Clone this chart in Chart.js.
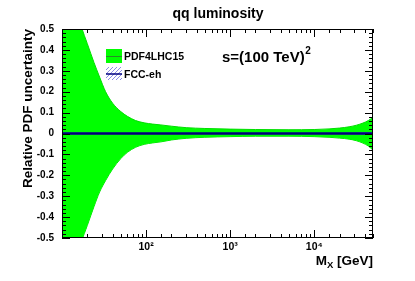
<!DOCTYPE html>
<html>
<head>
<meta charset="utf-8">
<script src="https://cdn.jsdelivr.net/npm/chart.js@4/dist/chart.umd.min.js"></script>
<style>
  html, body { margin: 0; padding: 0; background: #fff; }
  canvas { display: block; }
</style>
</head>
<body>
<canvas id="myChart" width="415" height="281"></canvas>
<script>
// invariant mass grid (GeV) and relative uncertainty bands
const massGeV = [10, 12, 14, 17, 20, 24, 28, 33, 40, 50, 60, 75, 95, 120, 150, 200, 300, 500, 1000, 2000, 5000, 10000, 15000, 20000, 26000, 32000, 38000, 44000, 50000];
const pdfUpper = [0.95, 0.75, 0.62, 0.51, 0.43, 0.34, 0.27, 0.20, 0.145, 0.105, 0.082, 0.062, 0.051, 0.045, 0.041, 0.035, 0.028, 0.024, 0.021, 0.019, 0.018, 0.019, 0.022, 0.026, 0.032, 0.040, 0.050, 0.062, 0.078];
const pdfLower = [-0.95, -0.78, -0.65, -0.52, -0.44, -0.35, -0.28, -0.225, -0.17, -0.12, -0.09, -0.066, -0.052, -0.045, -0.040, -0.031, -0.023, -0.018, -0.015, -0.013, -0.013, -0.015, -0.018, -0.022, -0.027, -0.035, -0.046, -0.060, -0.080];
const fccUpper = [0.005, 0.005, 0.005, 0.005, 0.004, 0.004, 0.004, 0.004, 0.004, 0.004, 0.004, 0.004, 0.004, 0.004, 0.004, 0.004, 0.004, 0.004, 0.004, 0.004, 0.004, 0.004, 0.004, 0.004, 0.005, 0.005, 0.006, 0.006, 0.007];
const fccLower = [-0.005, -0.005, -0.005, -0.005, -0.004, -0.004, -0.004, -0.004, -0.004, -0.004, -0.004, -0.004, -0.004, -0.004, -0.004, -0.004, -0.004, -0.004, -0.004, -0.004, -0.004, -0.004, -0.004, -0.004, -0.005, -0.005, -0.006, -0.006, -0.007];
const centralMass = [10, 50000];
const centralValue = [0, 0];

const xMajorTicks = [100, 1000, 10000];
const xTickLabels = ['10\u00b2', '10\u00b3', '10\u2074'];
const yTickValues = [-0.5, -0.4, -0.3, -0.2, -0.1, 0, 0.1, 0.2, 0.3, 0.4, 0.5];
const yTickLabels = ['-0.5', '-0.4', '-0.3', '-0.2', '-0.1', '0', '0.1', '0.2', '0.3', '0.4', '0.5'];

const FONT = "'Liberation Sans', Arial, Helvetica, sans-serif";
Chart.defaults.font.family = FONT;
Chart.defaults.color = '#000';

function pts(xs, ys) {
  return xs.map((x, i) => ({x: x, y: ys[i]}));
}

function hatch() {
  const c = document.createElement('canvas');
  c.width = 4; c.height = 4;
  const g = c.getContext('2d');
  g.strokeStyle = '#8c8ce6';
  g.lineWidth = 1;
  g.beginPath();
  g.moveTo(0, 4); g.lineTo(4, 0);
  g.stroke();
  return g.createPattern(c, 'repeat');
}

// frame, inward ticks, titles and legend (ROOT-like look)
const decor = {
  id: 'decor',
  afterDraw(chart) {
    const {ctx, chartArea: a, scales: {x, y}} = chart;
    ctx.save();
    ctx.strokeStyle = '#000';
    ctx.lineWidth = 1;
    ctx.beginPath();
    x.ticks.forEach(t => {
      const lg = Math.log10(t.value);
      const major = Math.abs(lg - Math.round(lg)) < 1e-6;
      const len = major ? 8 : 4;
      const px = Math.round(x.getPixelForValue(t.value)) + 0.5;
      ctx.moveTo(px, a.bottom); ctx.lineTo(px, a.bottom - len);
      ctx.moveTo(px, a.top); ctx.lineTo(px, a.top + len);
    });
    for (let i = -25; i <= 25; i++) {
      const v = i * 0.02;
      const major = i % 5 === 0;
      const len = major ? 8 : 4;
      const py = Math.round(y.getPixelForValue(v)) + 0.5;
      ctx.moveTo(a.left, py); ctx.lineTo(a.left + len, py);
      ctx.moveTo(a.right, py); ctx.lineTo(a.right - len, py);
    }
    ctx.stroke();
    ctx.strokeRect(a.left + 0.5, a.top + 0.5, a.width - 1, a.height - 1);

    ctx.fillStyle = '#000';
    // title
    ctx.font = 'bold 14px ' + FONT;
    ctx.textAlign = 'center';
    ctx.textBaseline = 'alphabetic';
    ctx.fillText('qq luminosity', 218, 18);

    // y axis title
    ctx.save();
    ctx.translate(32, a.top);
    ctx.rotate(-Math.PI / 2);
    ctx.font = 'bold 13.5px ' + FONT;
    ctx.textAlign = 'right';
    ctx.fillText('Relative PDF uncertainty', 0, 0);
    ctx.restore();

    // x axis title M_X [GeV]
    ctx.textAlign = 'left';
    const big = 'bold 13.5px ' + FONT, small = 'bold 9.5px ' + FONT;
    ctx.font = big; const wM = ctx.measureText('M').width;
    const wG = ctx.measureText(' [GeV]').width;
    ctx.font = small; const wX = ctx.measureText('X').width;
    let sx = a.right - (wM + wX + wG);
    ctx.font = big; ctx.fillText('M', sx, 265);
    ctx.font = small; ctx.fillText('X', sx + wM, 268);
    ctx.font = big; ctx.fillText(' [GeV]', sx + wM + wX, 265);

    // energy annotation
    ctx.font = 'bold 15px ' + FONT;
    ctx.fillText('s=(100 TeV)', 222, 62);
    const ws = ctx.measureText('s=(100 TeV)').width;
    ctx.font = 'bold 10px ' + FONT;
    ctx.fillText('2', 222 + ws + 0.5, 54);

    // legend
    ctx.fillStyle = '#00ff00';
    ctx.fillRect(106, 49, 16, 14);
    ctx.strokeStyle = '#2a8a2a';
    ctx.beginPath(); ctx.moveTo(106, 56.5); ctx.lineTo(122, 56.5); ctx.stroke();
    ctx.fillStyle = hatch();
    ctx.fillRect(106, 67, 16, 13);
    ctx.strokeStyle = '#000080';
    ctx.lineWidth = 1.5;
    ctx.beginPath(); ctx.moveTo(106, 74); ctx.lineTo(122, 74); ctx.stroke();
    ctx.fillStyle = '#000';
    ctx.font = 'bold 10.5px ' + FONT;
    ctx.fillText('PDF4LHC15', 124, 60);
    ctx.fillText('FCC-eh', 124, 78);
    ctx.restore();
  }
};

const data = {
  datasets: [
    {label: 'pdfLower', data: pts(massGeV, pdfLower), borderColor: '#00dd00', borderWidth: 1, fill: false, order: 5},
    {label: 'PDF4LHC15', data: pts(massGeV, pdfUpper), borderColor: '#00dd00', borderWidth: 1, backgroundColor: '#00ff00', fill: 0, order: 4},
    {label: 'pdfCentral', data: pts(centralMass, centralValue), borderColor: '#1f7a1f', borderWidth: 1, fill: false, order: 3},
    {label: 'fccLower', data: pts(massGeV, fccLower), borderColor: 'rgba(0,0,0,0)', borderWidth: 0, fill: false, order: 2},
    {label: 'FCC-eh', data: pts(massGeV, fccUpper), borderColor: 'rgba(0,0,0,0)', borderWidth: 0, backgroundColor: '#6f6fd8', fill: 3, order: 1},
    {label: 'fccCentral', data: pts(centralMass, centralValue), borderColor: '#00007a', borderWidth: 2.5, fill: false, order: 0}
  ]
};

const config = {
  type: 'line',
  data: data,
  options: {
    responsive: false,
    devicePixelRatio: 1,
    animation: false,
    cubicInterpolationMode: 'monotone',
    elements: { point: { radius: 0 } },
    layout: { padding: { top: 29, right: 42, left: 0, bottom: 0 } },
    plugins: { legend: { display: false }, tooltip: { enabled: false }, title: { display: false } },
    scales: {
      x: {
        type: 'logarithmic',
        min: 10,
        max: 50000,
        grid: { display: false, drawTicks: false },
        border: { display: false },
        ticks: {
          autoSkip: false,
          maxRotation: 0,
          padding: 3,
          font: { size: 10.5, weight: 'bold' },
          callback: function(value) {
            const i = xMajorTicks.indexOf(value);
            return i >= 0 ? xTickLabels[i] : '';
          }
        },
        afterFit: function(scale) { scale.height = 43; }
      },
      y: {
        min: -0.5,
        max: 0.5,
        grid: { display: false, drawTicks: false },
        border: { display: false },
        afterBuildTicks: function(scale) {
          scale.ticks = yTickValues.map(v => ({value: v}));
        },
        ticks: {
          padding: 8,
          font: { size: 10, weight: 'bold' },
          callback: function(value) {
            const i = yTickValues.findIndex(v => Math.abs(v - value) < 1e-9);
            return i >= 0 ? yTickLabels[i] : '';
          }
        },
        afterFit: function(scale) { scale.width = 62; }
      }
    }
  },
  plugins: [decor]
};

const myChart = new Chart(document.getElementById('myChart'), config);
</script>
</body>
</html>
